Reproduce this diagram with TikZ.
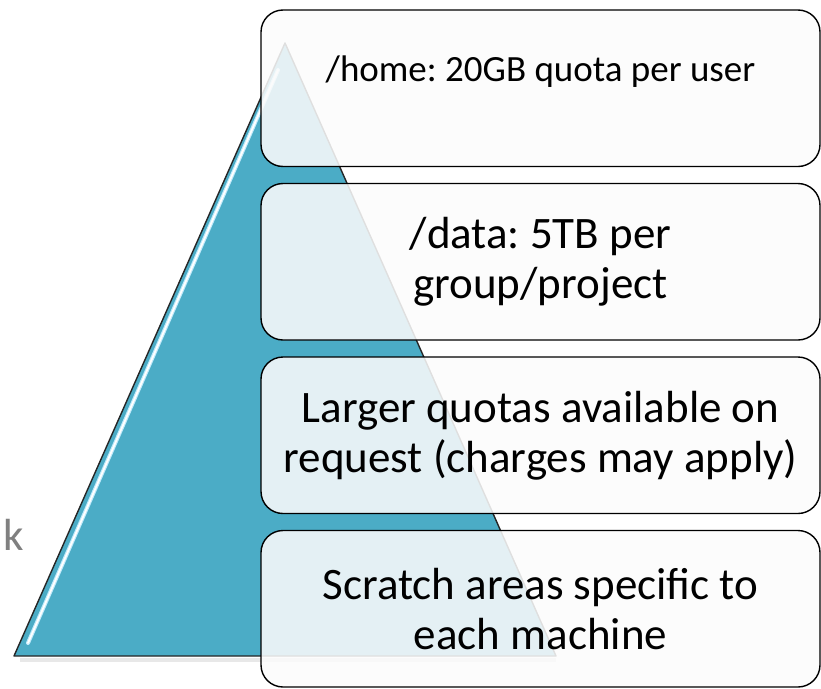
\documentclass[tikz,border=0pt]{standalone}
\usepackage{fontspec}
\setmainfont{Carlito}
\usepackage{tikz}
\usetikzlibrary{calc,positioning}
\frenchspacing
\definecolor{pyrblue}{HTML}{4BACC6}
\definecolor{boxwhite}{HTML}{FBFBFB}
\tikzset{
tier_box/.style={rectangle, rounded corners=22pt, draw=black, line width=1.4pt, fill=boxwhite, fill opacity=0.87, text opacity=1, minimum width=559pt, minimum height=156.5pt, inner sep=0pt, outer sep=0pt, align=center, font=\fontsize{45}{50}\selectfont},
tier_text/.style={inner sep=0pt, outer sep=0pt, font=\fontsize{37}{44}\selectfont},
side_text/.style={inner sep=0pt, outer sep=0pt, text=black!50, font=\fontsize{45}{50}\selectfont},
pyramid/.style={fill=pyrblue, draw=black!85, line width=1.4pt, line join=round}
}

\begin{document}
\begin{tikzpicture}[x=1pt, y=1pt]
    \useasboundingbox (0,0) rectangle (821,-688);
    \coordinate (apex) at (285,-43);
    \coordinate (base_left) at (14,-656);
    \coordinate (base_right) at (556,-656);
    \draw[black!9, line width=4pt] ($(base_left)+(6,-4)$) -- ($(base_right)+(0,-4)$);
    \draw[pyramid] (apex) -- (base_left) -- (base_right) -- cycle;
    \draw[cyan!25, line width=4pt, line cap=round] (278,-70) -- (28,-643);
    \draw[white, line width=1.8pt, line cap=round] (278,-70) -- (28,-643);
    \node[tier_box] (tier_1) at (540.5,-88.25) {};
    \node[tier_text] (home_text) [below=46pt of tier_1.north] {/home: 20GB quota per user};
    \node[tier_box] (tier_2) [below=17pt of tier_1] {/data: 5TB per\\group/project};
    \node[tier_box] (tier_3) [below=17pt of tier_2] {Larger quotas available on\\request (charges may apply)};
    \node[tier_box] (tier_4) [below=17pt of tier_3] {Scratch areas specific to\\each machine};
    \node[side_text, anchor=base west] (side_label) at (3,-550) {k};
\end{tikzpicture}
\end{document}
